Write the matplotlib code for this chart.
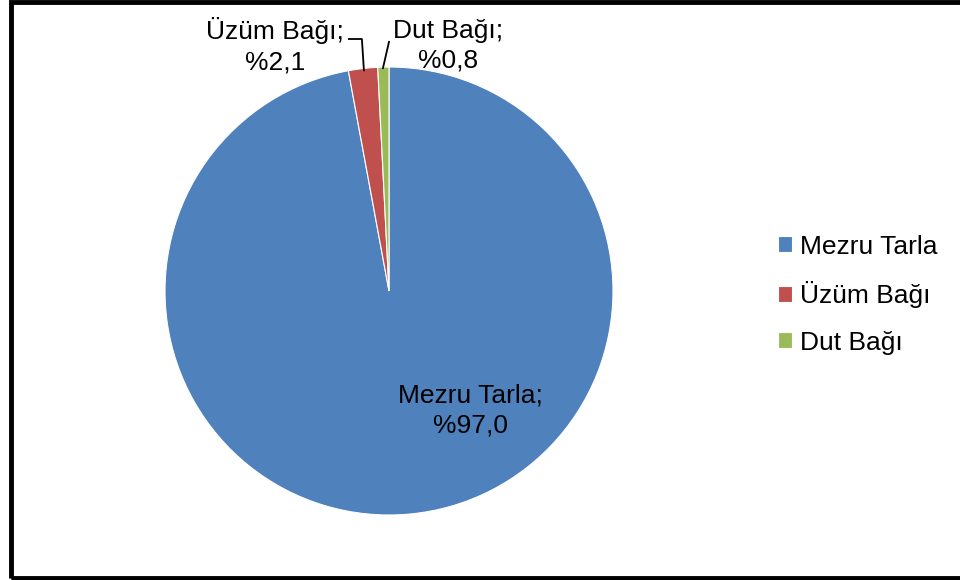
import matplotlib
matplotlib.use('Agg')
import matplotlib.pyplot as plt
from matplotlib.patches import Rectangle

# veri
labels = ['Mezru Tarla', 'Üzüm Bağı', 'Dut Bağı']
values = [97.0, 2.1, 0.8]
value_text = ['%97,0', '%2,1', '%0,8']
colors = ['#4F81BD', '#C0504D', '#9BBB59']

plt.rcParams['font.family'] = ['Liberation Sans', 'DejaVu Sans']

fig = plt.figure(figsize=(9.6, 5.8), dpi=100)
ax = fig.add_axes([165 / 960, 65 / 580, 448 / 960, 448 / 580])

wedges, _ = ax.pie(values, colors=colors, startangle=90, counterclock=False,
                   wedgeprops=dict(edgecolor='white', linewidth=0.8))
ax.set_xlim(-1, 1)
ax.set_ylim(-1, 1)
ax.set_aspect('equal')
ax.axis('off')

# etiketler
fs = 19
ax.text(0.365, -0.535, labels[0] + ';\n' + value_text[0], ha='center', va='center',
        fontsize=fs, linespacing=1.3)
ax.text(-0.51, 1.095, labels[1] + ';\n' + value_text[1], ha='center', va='center',
        fontsize=fs, linespacing=1.3, clip_on=False)
ax.text(0.262, 1.095, labels[2] + ';\n' + value_text[2], ha='center', va='center',
        fontsize=fs, linespacing=1.3, clip_on=False)

# kılavuz çizgileri
ax.plot([-0.179, -0.121, -0.112], [1.125, 1.125, 0.985], color='black', lw=1.3, clip_on=False)
ax.plot([-0.027, 0.0], [0.995, 1.112], color='black', lw=1.3, clip_on=False)

# lejant
fig.legend(wedges, labels, loc='center left', bbox_to_anchor=(0.791, 0.492),
           frameon=False, fontsize=fs, handlelength=0.55, handleheight=0.55,
           handletextpad=0.3, labelspacing=0.85, borderpad=0.2)

# çerçeve
fig.patches.append(Rectangle((11 / 960, 2 / 580), 1.0, 1 - 4 / 580, transform=fig.transFigure,
                             fill=False, edgecolor='black', linewidth=3.5))

plt.savefig('out.png', dpi=100)
